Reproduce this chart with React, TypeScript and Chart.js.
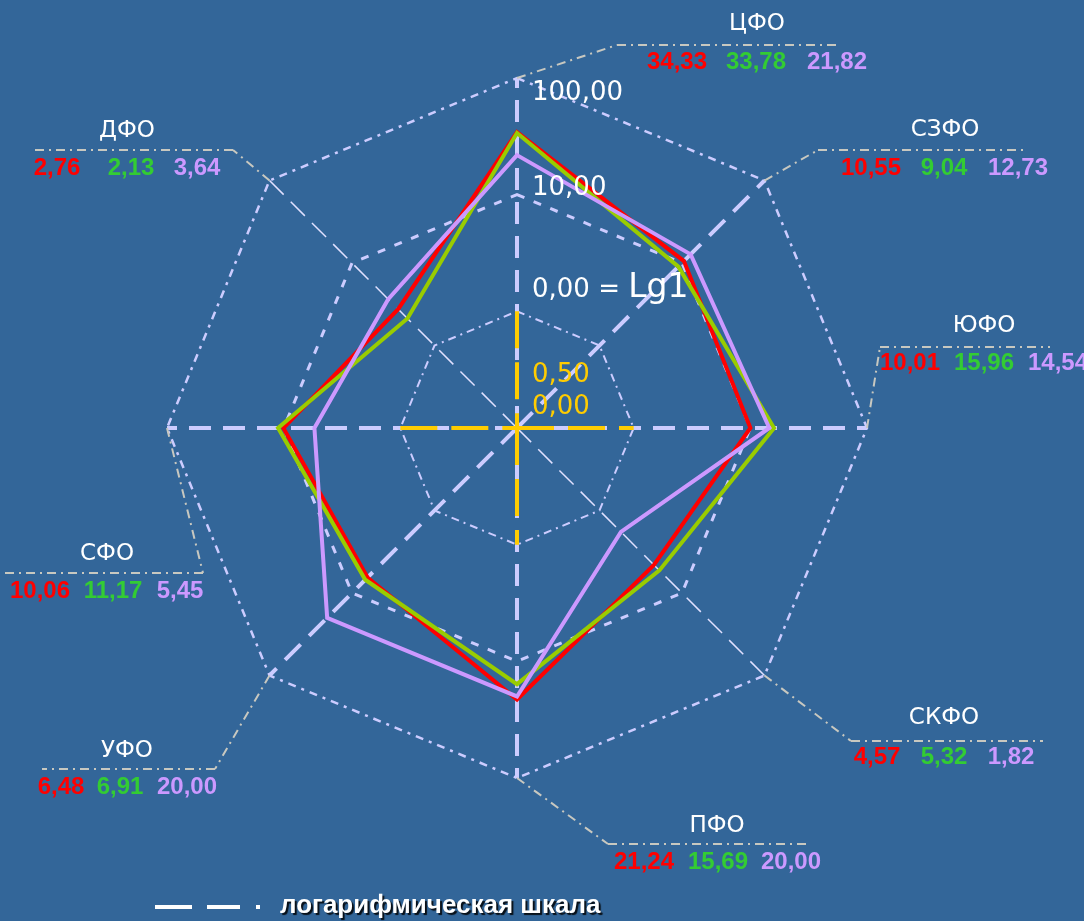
import React, { useEffect, useRef } from "react";
import { Chart, registerables } from "chart.js";

Chart.register(...registerables);

// ---- data ----
const regions = ["ЦФО", "СЗФО", "ЮФО", "СКФО", "ПФО", "УФО", "СФО", "ДФО"];
const seriesRed = [34.33, 10.55, 10.01, 4.57, 21.24, 6.48, 10.06, 2.76];
const seriesGreen = [33.78, 9.04, 15.96, 5.32, 15.69, 6.91, 11.17, 2.13];
const seriesLilac = [21.82, 12.73, 14.54, 1.82, 20.0, 20.0, 5.45, 3.64];
const scaleMinValue = 0.1;
const scaleMaxValue = 100;
const tickValues = [1, 10, 100];
const tickLabels = ["0,00 = ", "10,00", "100,00"];
const tickLabelSuffix = "Lg1";
const innerLabels = ["0,50", "0,00"];
const legendText = "логарифмическая шкала";

// ---- styling / layout ----
const BG = "#336699";
const RED = "#ff0000";
const GREEN_LINE = "#99cc00";
const GREEN_TEXT = "#33cc33";
const LILAC = "#cc99ff";
const GRID = "#ccccff";
const YELLOW = "#ffcc00";
const LEADER = "#c8c8c0";

const tickLabelDy = [-21, -6, 15];
const innerLabelDy = [-53, -21];

// per region: leader end x, underline x1..x2 at y, name centre, values centres
const labelLayout = [
  { lx: 617, ux1: 617, ux2: 837, uy: 45, nx: 757, ny: 24, vx: [677, 756, 837], vy: 62 },
  { lx: 818, ux1: 818, ux2: 1027, uy: 150, nx: 945, ny: 130, vx: [871, 944, 1018], vy: 168 },
  { lx: 880, ux1: 880, ux2: 1050, uy: 347, nx: 984, ny: 326, vx: [910, 984, 1058], vy: 363 },
  { lx: 851, ux1: 851, ux2: 1043, uy: 741, nx: 944, ny: 718, vx: [877, 944, 1011], vy: 757 },
  { lx: 608, ux1: 608, ux2: 810, uy: 844, nx: 717, ny: 826, vx: [644, 718, 791], vy: 862 },
  { lx: 215, ux1: 42, ux2: 215, uy: 769, nx: 127, ny: 751, vx: [61, 120, 187], vy: 787 },
  { lx: 203, ux1: 3, ux2: 203, uy: 573, nx: 107, ny: 554, vx: [40, 113, 180], vy: 591 },
  { lx: 233, ux1: 33, ux2: 233, uy: 150, nx: 127, ny: 131, vx: [57, 131, 197], vy: 168 },
];

const fmt = (v: number) => v.toFixed(2).replace(".", ",");
const lg = (v: number) => Math.log10(v);

const overlayPlugin = {
  id: "overlay",
  beforeDraw(chart: any) {
    const ctx = chart.ctx;
    ctx.save();
    ctx.fillStyle = BG;
    ctx.fillRect(0, 0, chart.width, chart.height);
    ctx.restore();
  },
  beforeDatasetsDraw(chart: any) {
    const r = chart.scales.r;
    const ctx = chart.ctx;
    const cx = r.xCenter;
    const cy = r.yCenter;
    const d1 = r.getDistanceFromCenterForValue(lg(tickValues[0]));
    const dMax = r.getDistanceFromCenterForValue(lg(scaleMaxValue));

    // leader lines + underlines
    ctx.save();
    ctx.strokeStyle = LEADER;
    ctx.lineWidth = 2;
    ctx.setLineDash([9, 5, 2, 5]);
    labelLayout.forEach((L, i) => {
      const p = r.getPointPosition(i, dMax);
      ctx.beginPath();
      ctx.moveTo(p.x, p.y);
      ctx.lineTo(L.lx, L.uy);
      ctx.stroke();
      ctx.beginPath();
      if (L.lx === L.ux1) {
        ctx.moveTo(L.ux1, L.uy);
        ctx.lineTo(L.ux2, L.uy);
      } else {
        ctx.moveTo(L.ux2, L.uy);
        ctx.lineTo(L.ux1, L.uy);
      }
      ctx.stroke();
    });
    ctx.restore();

    // yellow cross
    ctx.save();
    ctx.strokeStyle = YELLOW;
    ctx.lineWidth = 4;
    ctx.setLineDash([37, 14]);
    const segs = [
      [cx - d1, cy, cx, cy],
      [cx, cy, cx + d1, cy],
      [cx, cy - d1, cx, cy],
      [cx, cy, cx, cy + d1],
    ];
    segs.forEach((s) => {
      ctx.beginPath();
      ctx.moveTo(s[0], s[1]);
      ctx.lineTo(s[2], s[3]);
      ctx.stroke();
    });
    ctx.restore();
  },
  afterDraw(chart: any) {
    const r = chart.scales.r;
    const ctx = chart.ctx;
    const cx = r.xCenter;
    const cy = r.yCenter;
    ctx.save();
    // tick labels
    ctx.textBaseline = "middle";
    ctx.textAlign = "left";
    ctx.fillStyle = "#ffffff";
    tickValues.forEach((v, i) => {
      const d = r.getDistanceFromCenterForValue(lg(v));
      const y = cy - d + tickLabelDy[i];
      ctx.font = '26px "DejaVu Sans"';
      ctx.fillText(tickLabels[i], cx + 15, y);
      if (i === 0) {
        const w = ctx.measureText(tickLabels[i]).width;
        ctx.font = '33px "DejaVu Sans"';
        ctx.fillText(tickLabelSuffix, cx + 15 + w, y - 2);
      }
    });
    ctx.font = '26px "DejaVu Sans"';
    ctx.fillStyle = YELLOW;
    innerLabels.forEach((t, i) => {
      ctx.fillText(t, cx + 15, cy + innerLabelDy[i]);
    });

    // region labels
    ctx.textAlign = "center";
    const series = [seriesRed, seriesGreen, seriesLilac];
    const colors = [RED, GREEN_TEXT, LILAC];
    labelLayout.forEach((L, i) => {
      ctx.font = '23px "DejaVu Sans"';
      ctx.fillStyle = "#ffffff";
      ctx.fillText(regions[i], L.nx, L.ny);
      ctx.font = 'bold 24px "Liberation Sans"';
      series.forEach((s, k) => {
        ctx.fillStyle = colors[k];
        ctx.fillText(fmt(s[i]), L.vx[k], L.vy);
      });
    });

    // legend
    ctx.strokeStyle = "#ffffff";
    ctx.lineWidth = 4;
    ctx.setLineDash([]);
    ctx.beginPath();
    ctx.moveTo(155, 907);
    ctx.lineTo(192, 907);
    ctx.moveTo(207, 907);
    ctx.lineTo(240, 907);
    ctx.moveTo(256, 907);
    ctx.lineTo(260, 907);
    ctx.stroke();
    ctx.textAlign = "left";
    ctx.font = 'bold 26px "Liberation Sans"';
    ctx.shadowColor = "rgba(0,0,0,0.85)";
    ctx.shadowOffsetX = 2;
    ctx.shadowOffsetY = 2;
    ctx.shadowBlur = 1;
    ctx.fillStyle = "#ffffff";
    ctx.fillText(legendText, 280, 906);
    ctx.restore();
  },
};

export default function App() {
  const ref = useRef<HTMLCanvasElement | null>(null);

  useEffect(() => {
    if (!ref.current) return;
    const mk = (vals: number[], color: string, order: number) => ({
      data: vals.map(lg),
      borderColor: color,
      backgroundColor: "transparent",
      borderWidth: 4,
      pointRadius: 0,
      fill: false,
      order,
    });
    const chart = new Chart(ref.current, {
      type: "radar",
      data: {
        labels: regions,
        datasets: [
          mk(seriesRed, RED, 3),
          mk(seriesGreen, GREEN_LINE, 2),
          mk(seriesLilac, LILAC, 1),
        ],
      },
      options: {
        responsive: false,
        animation: false,
        layout: { padding: { left: 167, right: 217, top: 78, bottom: 143 } },
        plugins: { legend: { display: false }, tooltip: { enabled: false } },
        scales: {
          r: {
            min: lg(scaleMinValue),
            max: lg(scaleMaxValue),
            ticks: { display: false, stepSize: 1 },
            pointLabels: { display: false },
            grid: {
              color: GRID,
              lineWidth: (c: any) => {
                const v = Math.round(c.tick ? c.tick.value : -1);
                if (v === 0) return 2;
                if (v === 1) return 3;
                if (v === 2) return 2.5;
                return 0;
              },
            },
            border: {
              dash: (c: any) => {
                const v = Math.round(c.tick ? c.tick.value : -1);
                if (v === 0) return [8, 5, 2, 5];
                if (v === 1) return [8, 10];
                return [8, 6, 3, 6];
              },
            },
            angleLines: {
              color: (c: any) => (c.index % 4 === 3 ? "#e0e0ff" : GRID),
              lineWidth: (c: any) => (c.index % 4 === 3 ? 1.5 : 4),
              borderDash: (c: any) => (c.index % 4 === 3 ? [20, 10] : [22, 12]),
            },
          },
        },
      } as any,
      plugins: [overlayPlugin],
    });
    return () => chart.destroy();
  }, []);

  return (
    <div
      style={{
        position: "absolute",
        left: 0,
        top: 0,
        width: 1084,
        height: 921,
        background: BG,
      }}
    >
      <canvas ref={ref} width={1084} height={921} style={{ width: 1084, height: 921, display: "block" }} />
    </div>
  );
}
